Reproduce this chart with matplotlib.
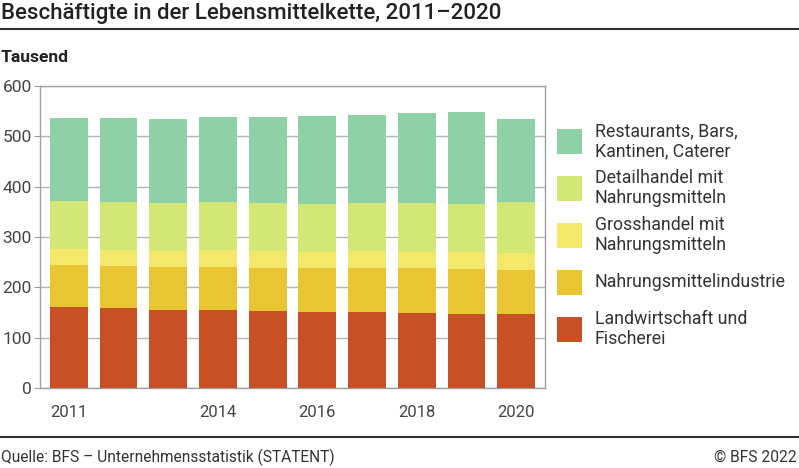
import matplotlib.pyplot as plt
import numpy as np
from matplotlib.patches import Rectangle
from matplotlib.lines import Line2D

plt.rcParams['font.family'] = ['Roboto', 'DejaVu Sans']

# Werte in Tausend
jahre = [2011, 2012, 2013, 2014, 2015, 2016, 2017, 2018, 2019, 2020]
landwirtschaft = [160, 158, 154, 154, 152, 151, 151, 150, 148, 148]
industrie = [84, 85, 86, 86, 86, 87, 87, 88, 88, 86]
grosshandel = [32, 32, 32, 34, 34, 33, 34, 33, 34, 34]
detailhandel = [96, 95, 96, 96, 95, 95, 95, 96, 96, 102]
restaurants = [165, 166, 166, 168, 171, 174, 175, 179, 182, 164]

labels = ['Landwirtschaft und\nFischerei', 'Nahrungsmittelindustrie',
          'Grosshandel mit\nNahrungsmitteln', 'Detailhandel mit\nNahrungsmitteln',
          'Restaurants, Bars,\nKantinen, Caterer']
farben = ['#c85025', '#e8c532', '#f3e86a', '#d2e776', '#8fd1a7']
xticks = [2011, 2014, 2016, 2018, 2020]

W, H = 799, 468
fig = plt.figure(figsize=(W / 100, H / 100), dpi=100)

def px(x, y):
  return x / W, 1 - y / H

ax = fig.add_axes([40 / W, (H - 388) / H, 505 / W, 302 / H])

serien = [landwirtschaft, industrie, grosshandel, detailhandel, restaurants]
unten = np.zeros(len(jahre))
for werte, farbe in zip(serien, farben):
  ax.bar(jahre, werte, width=0.76, bottom=unten, color=farbe, zorder=3, linewidth=0)
  unten += np.array(werte)

ax.set_xlim(2010.42, 2020.58)
ax.set_ylim(0, 600)
ax.set_yticks(range(0, 601, 100))
ax.set_xticks(xticks)
ax.yaxis.grid(True, color='#b5b5b5', linewidth=1, zorder=0)
for s in ax.spines.values():
  s.set_color('#a0a0a0')
  s.set_linewidth(1)
ax.tick_params(axis='y', colors='#a0a0a0', labelcolor='#444444', labelsize=12.5, length=4, pad=2)
ax.tick_params(axis='x', length=0, labelcolor='#444444', labelsize=12, pad=12)

# Legende
for i, (lab, farbe) in enumerate(zip(labels[::-1], farben[::-1])):
  yc = 141 + i * 47
  x0, y0 = px(557, yc + 12.5)
  fig.patches.append(Rectangle((x0, y0), 25 / W, 25 / H, transform=fig.transFigure,
                               facecolor=farbe, edgecolor='none'))
  tx, ty = px(595, yc)
  fig.text(tx, ty, lab, fontsize=12.8, color='#333333', va='center', ha='left',
           linespacing=1.15)

# Titel und Linien
fig.text(*px(1, 14), 'Beschäftigte in der Lebensmittelkette, 2011–2020', fontsize=16,
         fontweight='medium', color='#222222', va='center', ha='left')
fig.lines.append(Line2D([0, 1], [1 - 29 / H] * 2, transform=fig.transFigure, color='#333333', linewidth=1.5))
fig.text(*px(1, 58), 'Tausend', fontsize=12.6, fontweight='bold', color='#222222', va='center', ha='left')

fig.lines.append(Line2D([0, 1], [1 - 437 / H] * 2, transform=fig.transFigure, color='#333333', linewidth=1.5))
fig.text(*px(1, 457), 'Quelle: BFS – Unternehmensstatistik (STATENT)', fontsize=11.2,
         color='#333333', va='center', ha='left')
fig.text(*px(797, 457), '© BFS 2022', fontsize=11.2, color='#333333', va='center', ha='right')

fig.savefig('out.png', dpi=100)
